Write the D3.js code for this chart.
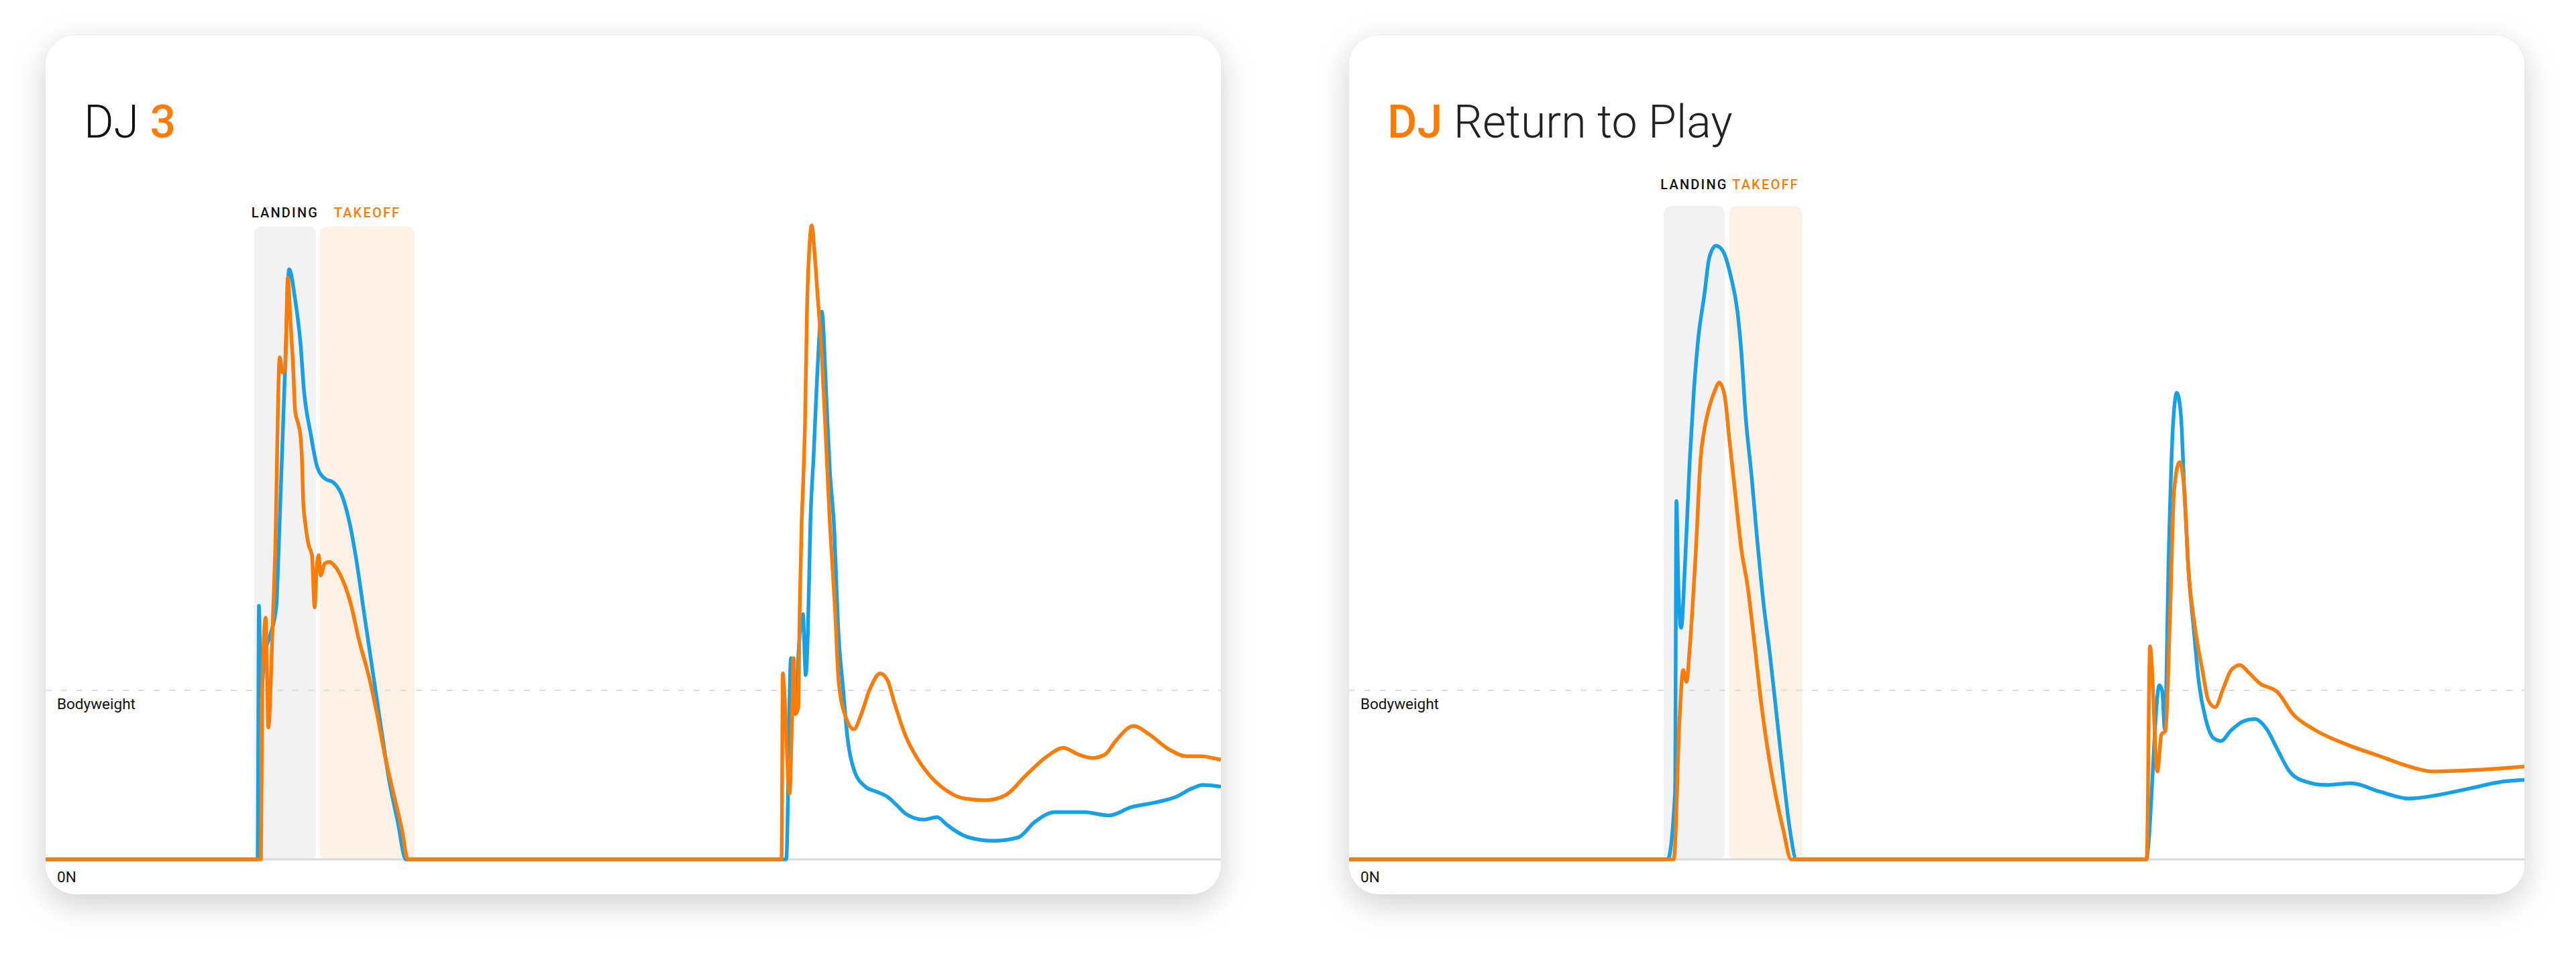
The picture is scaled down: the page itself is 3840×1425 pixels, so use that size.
<!DOCTYPE html>
<html>
<head>
<meta charset="utf-8">
<script src="https://cdn.jsdelivr.net/npm/d3@7"></script>
<style>
	body { margin: 0; background: #fff; }
	svg { display: block; font-family: Roboto, "Noto Sans", sans-serif; }
</style>
</head>
<body>
<svg id="chart" width="3840" height="1425"></svg>
<script>
// force traces, in bodyweights, against time (ms). blue = left limb, orange = right limb
var dj3Left = [[0,0],[316,0],[318,1.50],[321,0.97],[326,1.2],[335,1.33],[344,1.5],[347,1.79],[357,2.91],[363,3.49],[372,3.31],[380,3.05],[385,2.78],[395,2.52],[405,2.32],[417,2.25],[429,2.23],[442,2.15],[452,2.01],[462,1.80],[475,1.45],[488,1.1],[500,0.78],[512,0.47],[525,0.22],[537,0],
	[1104,0],[1111,1.19],[1114,0.88],[1120,0.88],[1122,1.2],[1129,1.45],[1133,1.09],[1136,1.3],[1140,1.99],[1145,2.4],[1150,2.85],[1157,3.24],[1164,2.72],[1169,2.3],[1175,1.99],[1182,1.33],[1189,1.0],[1195,0.73],[1205,0.53],[1222,0.43],[1239,0.40],[1255,0.37],[1269,0.32],[1282,0.27],[1309,0.235],[1329,0.25],[1342,0.21],[1352,0.18],[1376,0.13],[1413,0.11],[1450,0.13],[1474,0.22],[1505,0.28],[1548,0.28],[1585,0.26],[1619,0.31],[1652,0.335],[1685,0.37],[1709,0.42],[1725,0.44],[1752,0.43]];
var dj3Right = [[0,0],[321,0],[323,1.0],[328,1.43],[332,0.78],[338,1.33],[342,1.79],[349,2.97],[353,2.88],[357,2.9],[361,3.44],[365,3.18],[369,2.91],[372,2.65],[377,2.57],[380,2.5],[382,2.38],[384,2.12],[387,1.99],[392,1.86],[397,1.80],[401,1.49],[404,1.72],[407,1.80],[410,1.68],[416,1.75],[423,1.76],[430,1.74],[442,1.66],[455,1.51],[467,1.30],[482,1.08],[494,0.86],[506,0.61],[518,0.40],[531,0.18],[540,0],
	[1097,0],[1099,1.10],[1101,1.0],[1109,0.39],[1113,0.9],[1115,1.19],[1118,0.86],[1122,0.9],[1124,1.46],[1127,1.99],[1129,2.2],[1132,2.58],[1135,3.25],[1139,3.65],[1142,3.75],[1146,3.6],[1150,3.38],[1157,2.98],[1162,2.58],[1169,1.99],[1177,1.46],[1182,1.06],[1192,0.85],[1205,0.77],[1215,0.85],[1229,1.01],[1244,1.10],[1255,1.06],[1265,0.93],[1282,0.73],[1299,0.60],[1315,0.51],[1342,0.41],[1370,0.36],[1401,0.35],[1431,0.38],[1462,0.50],[1493,0.61],[1517,0.66],[1540,0.62],[1560,0.60],[1579,0.62],[1595,0.70],[1622,0.79],[1645,0.74],[1675,0.65],[1702,0.61],[1725,0.61],[1739,0.60],[1752,0.59]];
var rtpLeft = [[0,0],[475,0],[486,0.4],[488,2.12],[491,1.6],[495,1.37],[501,1.76],[508,2.37],[514,2.77],[520,3.06],[530,3.35],[537,3.56],[547,3.63],[557,3.60],[569,3.45],[579,3.24],[585,2.99],[591,2.63],[600,2.27],[608,1.91],[618,1.51],[628,1.19],[638,0.83],[648,0.47],[657,0.18],[667,0],
	[1188,0],[1208,1.03],[1212,1.0],[1216,0.77],[1222,1.83],[1228,2.55],[1234,2.76],[1240,2.63],[1245,2.19],[1251,1.73],[1259,1.37],[1267,1.04],[1277,0.83],[1288,0.72],[1300,0.70],[1314,0.76],[1335,0.82],[1350,0.83],[1368,0.77],[1384,0.65],[1402,0.52],[1426,0.46],[1457,0.44],[1494,0.45],[1537,0.40],[1580,0.36],[1622,0.38],[1671,0.42],[1720,0.46],[1752,0.47]];
var rtpRight = [[0,0],[484,0],[493,0.86],[498,1.12],[503,1.05],[508,1.26],[517,1.83],[524,2.37],[530,2.55],[536,2.66],[545,2.77],[552,2.82],[560,2.74],[567,2.48],[575,2.19],[585,1.83],[594,1.62],[604,1.29],[613,0.97],[624,0.65],[635,0.40],[647,0.18],[659,0],
	[1189,0],[1194,1.26],[1205,0.52],[1211,0.74],[1217,0.76],[1224,1.47],[1230,2.19],[1238,2.35],[1245,2.19],[1251,1.73],[1260,1.40],[1272,1.12],[1281,0.94],[1291,0.90],[1303,1.01],[1315,1.12],[1328,1.15],[1340,1.11],[1358,1.04],[1384,0.99],[1407,0.86],[1438,0.77],[1487,0.68],[1537,0.61],[1580,0.55],[1616,0.52],[1683,0.53],[1752,0.55]];

// phase windows (ms)
var dj3Phases = [{name: "LANDING", start: 311, end: 403}, {name: "TAKEOFF", start: 409, end: 550}];
var rtpPhases = [{name: "LANDING", start: 469, end: 560}, {name: "TAKEOFF", start: 567, end: 675}];

var timeDomain = [0, 1752];
var yLabels = ["0N", "Bodyweight"];

var ORANGE = "#fb7d07", BLUE = "#18a0e6";

// card 1752 x 1280
var cardW = 1752, cardH = 1280, cardR = 45;
var zeroY = 1228, bwY = 976;

var svg = d3.select("#chart");

var defs = svg.append("defs");
defs.append("filter")
		.attr("id", "shadow")
		.attr("x", "-10%").attr("y", "-10%")
		.attr("width", "120%").attr("height", "125%")
	.append("feDropShadow")
		.attr("dx", 0)
		.attr("dy", 14)
		.attr("stdDeviation", 24)
		.attr("flood-color", "#000")
		.attr("flood-opacity", 0.19);

var cards = [
	{id: "dj3", x: 68, title: [{t: "DJ ", w: 300, c: "#111"}, {t: "3", w: 500, c: ORANGE}],
		left: dj3Left, right: dj3Right, phases: dj3Phases, labelY: 271, phaseTop: 285},
	{id: "rtp", x: 2011, title: [{t: "DJ", w: 500, c: ORANGE}, {t: " Return to Play", w: 300, c: "#222"}],
		left: rtpLeft, right: rtpRight, phases: rtpPhases, labelY: 229, phaseTop: 254}
];

cards.forEach(function(card) {
	var g = svg.append("g").attr("transform", "translate(" + card.x + ",53)");

	g.append("rect")
		.attr("width", cardW)
		.attr("height", cardH)
		.attr("rx", cardR)
		.attr("fill", "#fff")
		.attr("filter", "url(#shadow)");

	g.append("clipPath")
		.attr("id", "clip-" + card.id)
		.append("rect")
			.attr("width", cardW)
			.attr("height", cardH)
			.attr("rx", cardR);

	var x = d3.scaleLinear().domain(timeDomain).range([0, cardW]);
	var y = d3.scaleLinear().domain([0, 1]).range([zeroY, bwY]);

	// title
	g.append("text")
		.attr("x", 57)
		.attr("y", 152)
		.attr("font-size", 68)
		.style("white-space", "pre")
		.selectAll("tspan")
		.data(card.title)
		.enter().append("tspan")
			.attr("font-weight", function(d) { return d.w; })
			.attr("fill", function(d) { return d.c; })
			.text(function(d) { return d.t; });

	// phase bands
	var phase = g.append("g").attr("class", "phases");
	phase.selectAll("rect")
		.data(card.phases)
		.enter().append("rect")
			.attr("x", function(d) { return x(d.start); })
			.attr("y", card.phaseTop)
			.attr("width", function(d) { return x(d.end) - x(d.start); })
			.attr("height", y(0) - card.phaseTop)
			.attr("rx", 10)
			.attr("fill", function(d, i) { return i === 0 ? "#f2f2f2" : "#fdf1e5"; });
	phase.selectAll("text")
		.data(card.phases)
		.enter().append("text")
			.attr("x", function(d) { return (x(d.start) + x(d.end)) / 2; })
			.attr("y", card.labelY)
			.attr("text-anchor", "middle")
			.attr("font-size", 20)
			.attr("font-weight", 500)
			.attr("letter-spacing", 2.2)
			.attr("fill", function(d, i) { return i === 0 ? "#111" : ORANGE; })
			.text(function(d) { return d.name; });

	// reference lines
	g.append("line")
		.attr("x1", 0).attr("x2", cardW)
		.attr("y1", y(1)).attr("y2", y(1))
		.attr("stroke", "#dedede")
		.attr("stroke-width", 2)
		.attr("stroke-dasharray", "9 14");
	g.append("line")
		.attr("x1", 0).attr("x2", cardW)
		.attr("y1", y(0)).attr("y2", y(0))
		.attr("stroke", "#dadada")
		.attr("stroke-width", 3);

	g.selectAll(".ylab")
		.data(yLabels)
		.enter().append("text")
			.attr("class", "ylab")
			.attr("x", 17)
			.attr("y", function(d, i) { return y(i) + (i === 0 ? 34 : 28); })
			.attr("font-size", 22.5)
			.attr("fill", "#111")
			.text(function(d) { return d; });

	var line = d3.line()
		.x(function(d) { return x(d[0]); })
		.y(function(d) { return y(d[1]); })
		.curve(d3.curveMonotoneX);

	var traces = g.append("g").attr("clip-path", "url(#clip-" + card.id + ")");
	traces.append("path")
		.attr("d", line(card.left))
		.attr("fill", "none")
		.attr("stroke", BLUE)
		.attr("stroke-width", 5.5)
		.attr("stroke-linejoin", "round");
	traces.append("path")
		.attr("d", line(card.right))
		.attr("fill", "none")
		.attr("stroke", ORANGE)
		.attr("stroke-width", 5.5)
		.attr("stroke-linejoin", "round");
});
</script>
</body>
</html>
